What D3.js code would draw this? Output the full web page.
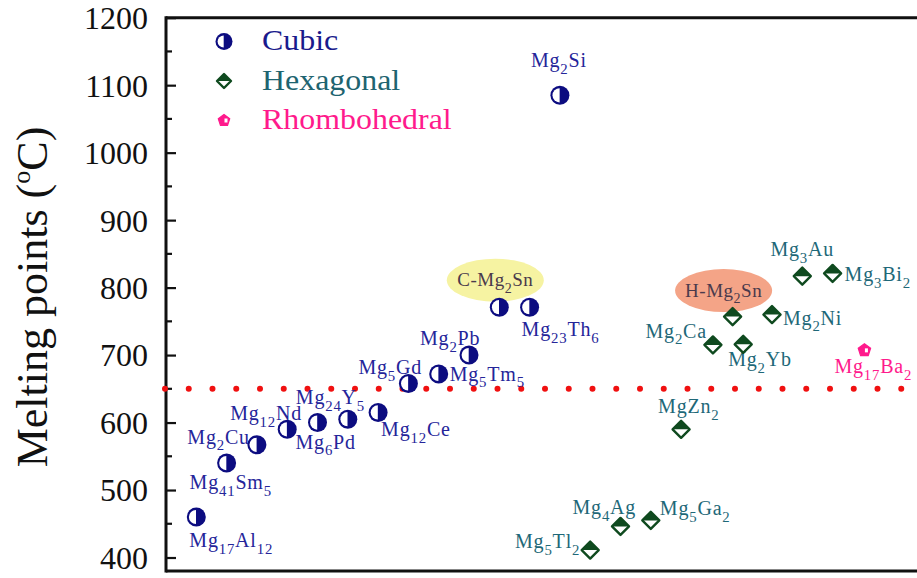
<!DOCTYPE html>
<html>
<head>
<meta charset="utf-8">
<script src="https://cdn.jsdelivr.net/npm/d3@7"></script>
<style>
  html, body { margin: 0; padding: 0; background: #fff; }
  svg { display: block; font-family: "Liberation Serif", "Times New Roman", serif; }
</style>
</head>
<body>
<svg id="chart" width="917" height="578"></svg>
<script>
// Melting points of Mg-based intermetallic compounds, grouped by crystal system.
const cubicNames   = ["Mg17Al12", "Mg41Sm5", "Mg2Cu", "Mg12Nd", "Mg6Pd", "Mg24Y5", "Mg12Ce",
                      "Mg5Gd", "Mg5Tm5", "Mg2Pb", "C-Mg2Sn", "Mg23Th6", "Mg2Si"];
const cubicOrder   = [1, 2, 3, 4, 5, 6, 7, 8, 9, 10, 11, 12, 13];
const cubicMelting = [460, 540, 567, 590, 600, 605, 615, 658, 672, 700, 771, 771, 1085];

const hexNames   = ["Mg5Tl2", "Mg4Ag", "Mg5Ga2", "MgZn2", "Mg2Ca", "H-Mg2Sn", "Mg2Yb",
                    "Mg2Ni", "Mg3Au", "Mg3Bi2"];
const hexOrder   = [14, 15, 16, 17, 18.05, 18.7, 19.05, 20, 21, 22];
const hexMelting = [411, 446, 455, 590, 715, 757, 716, 760, 817, 821];

const rhomboNames   = ["Mg17Ba2"];
const rhomboOrder   = [23.05];
const rhomboMelting = [707];

const referenceTemp = 650;                 // dotted reference line
const yTicks = [400, 500, 600, 700, 800, 900, 1000, 1100, 1200];
const yMinorTicks = [450, 550, 650, 750, 850, 950, 1050, 1150];
const legendLabels = ["Cubic", "Hexagonal", "Rhombohedral"];

// label placement relative to each marker (pixels)
const labelLayout = {
  "Mg17Al12": ["start", -7, 30],  "Mg41Sm5": ["start", -37, 26], "Mg2Cu": ["end", -7, -1],
  "Mg12Nd": ["start", -57, -9],   "Mg6Pd": ["start", -22, 26],   "Mg24Y5": ["start", -52, -15],
  "Mg12Ce": ["start", 3, 24],     "Mg5Gd": ["start", -50, -9],   "Mg5Tm5": ["start", 11, 7],
  "Mg2Pb": ["start", -49, -10],   "C-Mg2Sn": ["middle", -4, -27],"Mg23Th6": ["start", -8, 29],
  "Mg2Si": ["middle", -1, -28],
  "Mg5Tl2": ["end", -10, -2],     "Mg4Ag": ["start", -48, -12],  "Mg5Ga2": ["start", 9, -5],
  "MgZn2": ["start", -23, -16],   "Mg2Ca": ["end", -6, -7],      "H-Mg2Sn": ["middle", -9, -26],
  "Mg2Yb": ["start", -15, 22],    "Mg2Ni": ["start", 11, 10],    "Mg3Au": ["middle", 0, -20],
  "Mg3Bi2": ["start", 12, 8],     "Mg17Ba2": ["start", -30, 23]
};
const highlight = { "C-Mg2Sn": "#f6f3a2", "H-Mg2Sn": "#f4a487" };

const navy = "#0c0c80", cubicText = "#25259a";
const green = "#0f4a1f", hexText = "#1e6878";
const pink = "#ff1a8c";

const svg = d3.select("#chart");
const plotLeft = 166, plotTop = 17.7, plotBottom = 571;
const x = d3.scaleLinear().domain([0, 24.9]).range([plotLeft, plotLeft + 30.3 * 24.9]);
const y = d3.scaleLinear().domain([380, 1200]).range([plotBottom, plotTop]);

// frame
svg.append("line").attr("x1", plotLeft).attr("x2", 917).attr("y1", plotTop).attr("y2", plotTop)
  .attr("stroke", "#111").attr("stroke-width", 3);
svg.append("line").attr("x1", plotLeft).attr("x2", 917).attr("y1", plotBottom).attr("y2", plotBottom)
  .attr("stroke", "#111").attr("stroke-width", 3);

// y axis with inward ticks
const yAxis = d3.axisLeft(y).tickValues(yTicks).tickSize(-10).tickPadding(18).tickFormat(d3.format("d"));
const gy = svg.append("g").attr("transform", `translate(${plotLeft},0)`).call(yAxis);
gy.select(".domain").attr("stroke", "#111").attr("stroke-width", 3)
  .attr("d", `M0,${plotTop - 1.5}V${plotBottom + 1.5}`);
gy.selectAll(".tick line").attr("stroke", "#111").attr("stroke-width", 2.2);
gy.selectAll(".tick text").attr("font-size", 32).attr("fill", "#111")
  .attr("font-family", "Liberation Serif").attr("dy", "0.34em");
svg.append("g").selectAll("line").data(yMinorTicks).join("line")
  .attr("x1", plotLeft).attr("x2", plotLeft + 6).attr("y1", d => y(d)).attr("y2", d => y(d))
  .attr("stroke", "#111").attr("stroke-width", 2.2);

// axis title
const title = svg.append("text")
  .attr("transform", `translate(47,297) rotate(-90)`)
  .attr("text-anchor", "middle").attr("font-size", 44).attr("fill", "#111");
title.append("tspan").text("Melting points (");
title.append("tspan").text("o").attr("font-size", 26).attr("dy", -17);
title.append("tspan").text("C)").attr("dy", 17);

// reference line
svg.append("line")
  .attr("x1", plotLeft - 1).attr("x2", 917).attr("y1", y(referenceTemp)).attr("y2", y(referenceTemp))
  .attr("stroke", "#f01010").attr("stroke-width", 6).attr("stroke-linecap", "round")
  .attr("stroke-dasharray", "0 23.75");

// formula text with digit subscripts
function formula(sel, name, size) {
  const parts = name.match(/\d+|[^\d]+/g);
  let lowered = false;
  parts.forEach(p => {
    const isSub = /^\d+$/.test(p);
    const t = sel.append("tspan").text(p);
    if (isSub) {
      t.attr("font-size", size * 0.74).attr("dy", lowered ? 0 : 6.5);
      lowered = true;
    } else {
      t.attr("font-size", size).attr("dy", lowered ? -6.5 : 0);
      lowered = false;
    }
  });
}

function drawLabels(names, order, temps, color) {
  names.forEach((n, i) => {
    const [anchor, dx, dy] = labelLayout[n];
    const px = x(order[i]) + dx, py = y(temps[i]) + dy;
    if (highlight[n]) {
      svg.append("ellipse").attr("cx", px).attr("cy", py)
        .attr("rx", 48.5).attr("ry", 21.5).attr("fill", highlight[n]);
      const t = svg.append("text").attr("x", px).attr("y", py + 6)
        .attr("text-anchor", "middle").attr("fill", "#4a3a4c").attr("letter-spacing", 0.5);
      formula(t, n, 19);
    } else {
      const t = svg.append("text").attr("x", px).attr("y", py)
        .attr("text-anchor", anchor).attr("fill", color).attr("letter-spacing", 0.8);
      formula(t, n, 20);
    }
  });
}

// markers
function cubicMarker(g, r) {
  g.append("circle").attr("r", r).attr("fill", navy);
  const ri = r - 2.4;
  g.append("path").attr("d", `M-0.3,${-ri}A${ri},${ri} 0 0,0 -0.3,${ri}Z`).attr("fill", "#fff");
}
function hexMarker(g, s) {
  g.append("path").attr("d", `M0,${-s}L${s},0L0,${s}L${-s},0Z`)
    .attr("fill", "#fff").attr("stroke", green).attr("stroke-width", 2.4).attr("stroke-linejoin", "round");
  g.append("path").attr("d", `M0,${-s}L${s},0L${-s},0Z`).attr("fill", green);
}
function rhomboMarker(g, s) {
  const pts = d3.range(5).map(k => {
    const a = -Math.PI / 2 + k * 2 * Math.PI / 5;
    return [s * Math.cos(a), s * Math.sin(a)];
  });
  g.append("path").attr("d", "M" + pts.join("L") + "Z").attr("fill", pink).attr("stroke", pink).attr("stroke-width", 1.2);
  g.append("rect").attr("x", 0.5).attr("y", -2).attr("width", 3).attr("height", 4).attr("fill", "#fff");
}

function drawSeries(names, order, temps, marker, size) {
  svg.append("g").selectAll("g").data(names).join("g")
    .attr("transform", (d, i) => `translate(${x(order[i])},${y(temps[i])})`)
    .each(function () { marker(d3.select(this), size); });
}

drawLabels(cubicNames, cubicOrder, cubicMelting, cubicText);
drawLabels(hexNames, hexOrder, hexMelting, hexText);
drawLabels(rhomboNames, rhomboOrder, rhomboMelting, pink);
drawSeries(cubicNames, cubicOrder, cubicMelting, cubicMarker, 9.5);
drawSeries(hexNames, hexOrder, hexMelting, hexMarker, 8.5);
drawSeries(rhomboNames, rhomboOrder, rhomboMelting, rhomboMarker, 6.5);

// legend
const legendColors = ["#1a1a8c", "#1e6470", pink];
const legendMarkers = [[cubicMarker, 8.5], [hexMarker, 7], [rhomboMarker, 6]];
const legend = svg.append("g").selectAll("g").data(legendLabels).join("g")
  .attr("transform", (d, i) => `translate(224,${41.5 + i * 39.5})`);
legend.each(function (d, i) {
  const g = d3.select(this);
  legendMarkers[i][0](g.append("g"), legendMarkers[i][1]);
  g.append("text").attr("transform", "translate(38,8.5) scale(1.12,1)").attr("font-size", 28.5)
    .attr("fill", legendColors[i]).text(d);
});
</script>
</body>
</html>
